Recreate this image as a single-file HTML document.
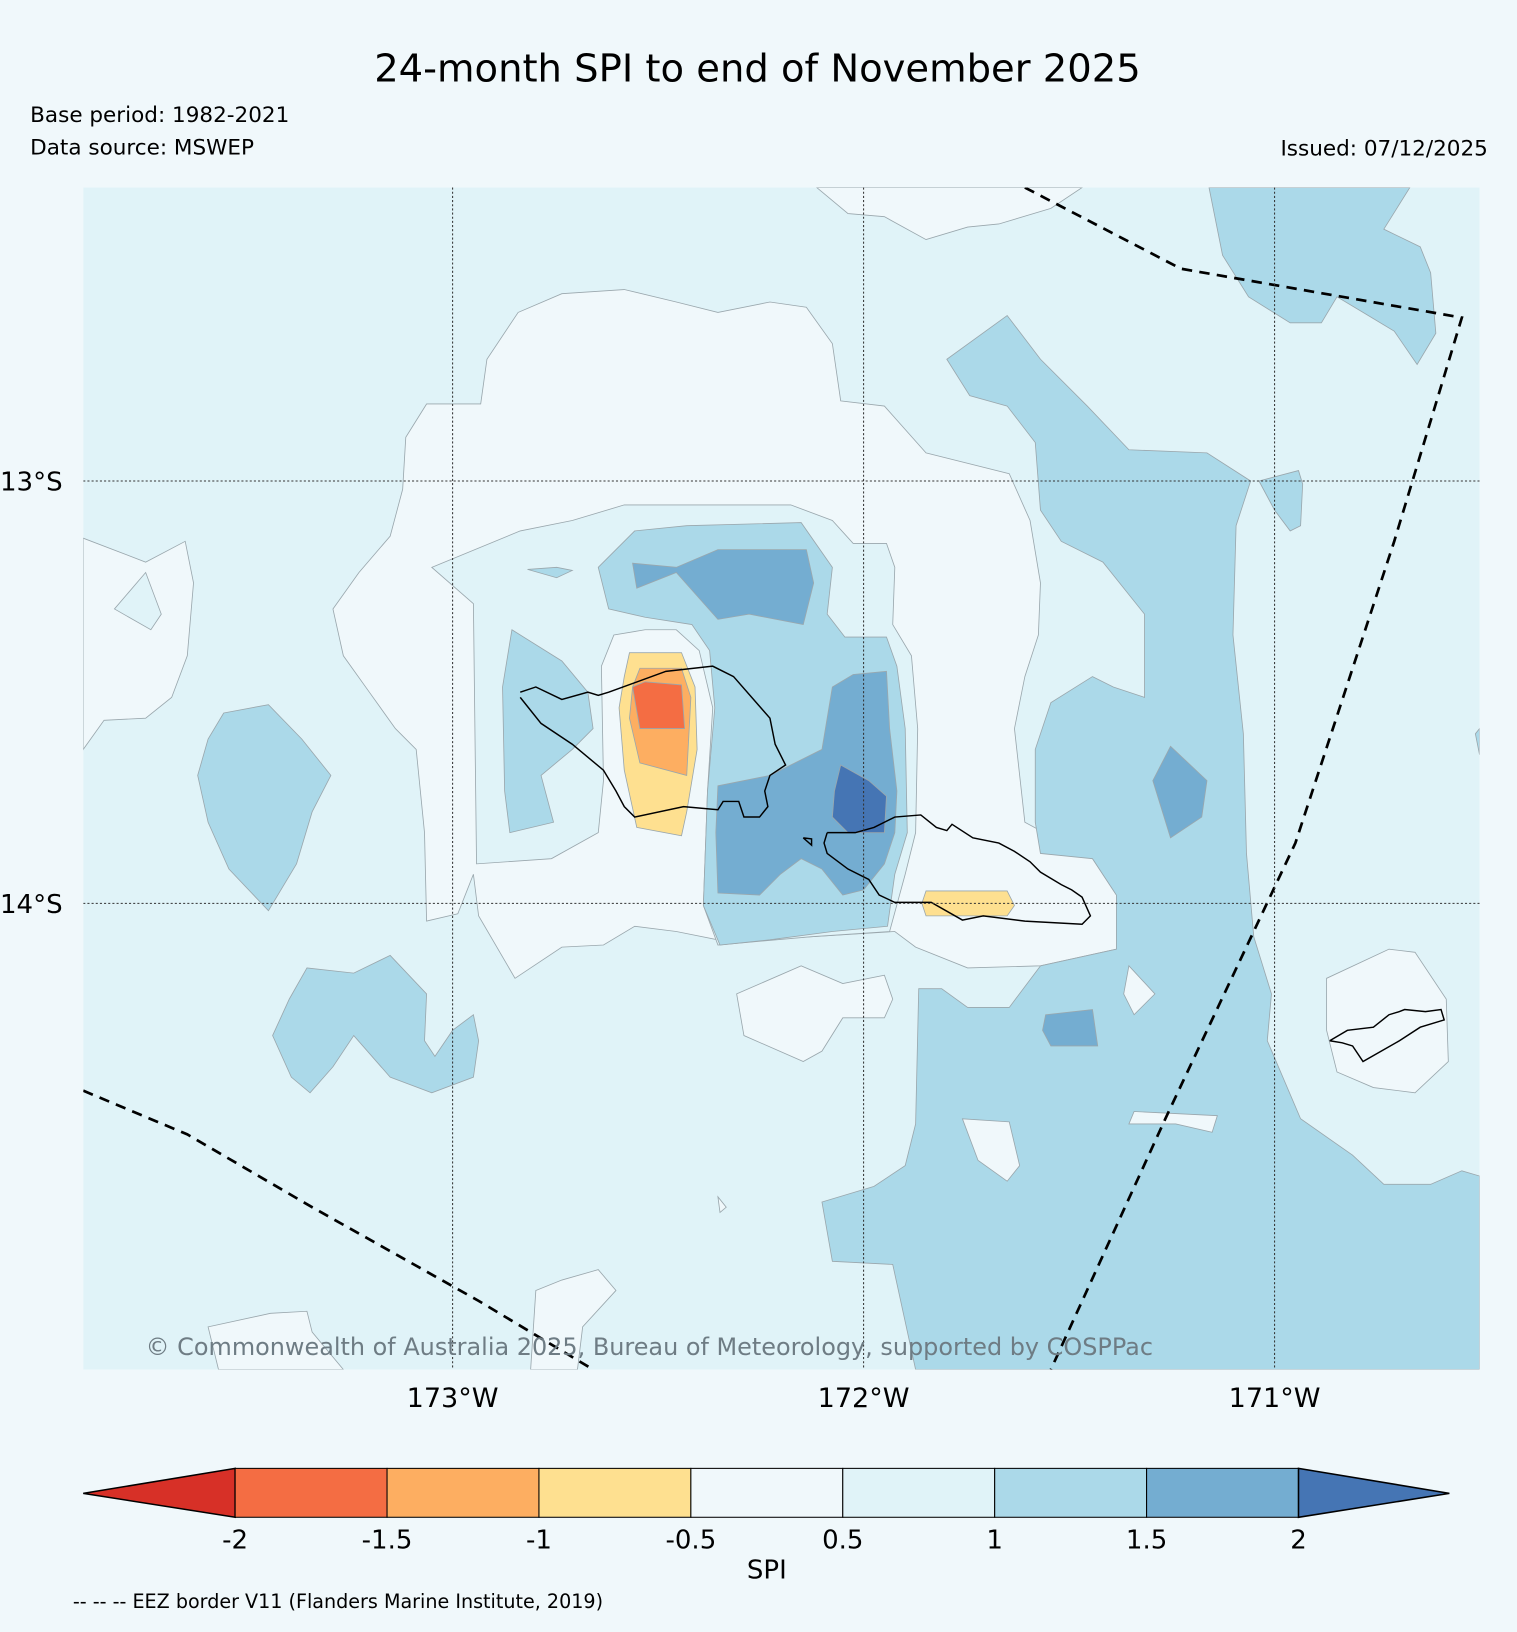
<!DOCTYPE html>
<html><head><meta charset="utf-8"><style>
html,body{margin:0;padding:0;background:#f0f8fb;}
svg{display:block;font-family:"Liberation Sans","DejaVu Sans",sans-serif;}
</style></head><body>
<svg id="root" width="1517" height="1632" viewBox="0 0 1458 1568" xmlns="http://www.w3.org/2000/svg">
<rect x="0" y="0" width="1458" height="1568" fill="#f0f8fb"/>
<text x="728" y="78" text-anchor="middle" font-size="37" fill="#000" font-family="DejaVu Sans, sans-serif">24-month SPI to end of November 2025</text>
<text x="29" y="117" font-size="20.7" font-family="DejaVu Sans, sans-serif">Base period: 1982-2021</text>
<text x="29" y="148" font-size="20.7" font-family="DejaVu Sans, sans-serif">Data source: MSWEP</text>
<text x="1430" y="149" text-anchor="end" font-size="20.7" font-family="DejaVu Sans, sans-serif">Issued: 07/12/2025</text>
<defs><clipPath id="mapclip"><rect x="80" y="180" width="1342" height="1136"/></clipPath></defs>
<g id="map" clip-path="url(#mapclip)"></g>
<g id="axes"></g>
<g id="cbar"></g>
<text x="70" y="1545" font-size="18.4" font-family="DejaVu Sans, sans-serif">-- -- -- EEZ border V11 (Flanders Marine Institute, 2019)</text>
</svg>
<script>
// ---- data ----
const levels = [-2, -1.5, -1, -0.5, 0.5, 1, 1.5, 2];
const levelLabels = ["-2", "-1.5", "-1", "-0.5", "0.5", "1", "1.5", "2"];
const binColors = ["#d73027", "#f46d43", "#fdae61", "#fee090", "#f0f8fb", "#e0f3f8", "#abd9e9", "#74add1", "#4575b4"];
const lonTicks = [-173, -172, -171];
const lonLabels = ["173°W", "172°W", "171°W"];
const latTicks = [-13, -14];
const latLabels = ["13°S", "14°S"];
// contour regions: [binIndex, outline in map grid units]
const contours = [
 [4,[[462,388],[468,345],[498,300],[540,282],[600,278],[650,290],[690,300],[740,290],[775,295],[800,330],[808,385],[850,390],[890,435],[970,455],[990,500],[1000,560],[998,610],[985,650],[975,700],[985,790],[1050,825],[1073,860],[1073,912],[1000,928],[930,930],[880,910],[860,895],[780,900],[700,905],[650,895],[610,890],[580,908],[540,910],[495,940],[460,880],[455,840],[440,878],[410,885],[408,800],[400,720],[380,700],[355,665],[330,630],[320,585],[345,550],[375,515],[387,470],[390,420],[410,388]]],
 [4,[[80,517],[140,540],[178,520],[186,560],[180,630],[165,670],[140,690],[100,692],[80,720]]],
 [5,[[110,585],[140,550],[155,590],[145,605]]],
 [4,[[785,180],[1040,180],[1010,200],[960,215],[930,218],[890,230],[850,208],[815,205]]],
 [5,[[415,545],[500,510],[550,500],[600,485],[760,485],[800,500],[820,522],[852,522],[860,545],[858,600],[876,630],[882,700],[880,800],[870,840],[855,895],[780,900],[690,908],[676,870],[680,760],[685,680],[672,625],[650,605],[620,605],[590,610],[578,640],[580,750],[575,800],[530,825],[458,830],[455,580]]],
 [6,[[575,545],[610,510],[660,505],[770,502],[800,545],[795,590],[812,612],[852,612],[862,640],[870,700],[872,800],[860,840],[853,890],[800,895],[740,903],[692,908],[676,870],[680,760],[687,680],[682,625],[665,600],[620,593],[585,585]]],
 [6,[[492,605],[540,635],[565,665],[570,700],[550,720],[520,745],[532,790],[490,800],[485,760],[483,660]]],
 [6,[[507,547],[535,545],[550,548],[535,555]]],
 [7,[[608,541],[650,545],[690,528],[775,528],[782,560],[772,600],[720,590],[690,595],[650,550],[612,565]]],
 [7,[[690,755],[740,745],[790,720],[800,660],[820,648],[852,645],[855,700],[862,760],[860,800],[850,830],[830,855],[810,860],[790,835],[770,825],[750,840],[730,860],[690,858],[688,800]]],
 [8,[[808,735],[835,750],[852,765],[850,800],[815,800],[800,785],[802,760]]],
 [3,[[605,627],[655,627],[668,660],[670,720],[660,780],[655,803],[612,795],[600,740],[595,680],[600,650]]],
 [2,[[615,642],[655,642],[664,670],[660,745],[615,733],[605,690],[608,660]]],
 [1,[[608,660],[620,655],[655,658],[658,700],[615,700]]],
 [3,[[890,856],[968,856],[975,870],[968,880],[890,880],[886,868]]],
 [6,[[910,345],[932,380],[968,390],[995,425],[1000,490],[1020,520],[1060,540],[1100,590],[1100,670],[1070,660],[1050,650],[1010,675],[995,720],[995,790],[1000,820],[1050,825],[1073,860],[1073,912],[1000,928],[970,968],[930,968],[905,950],[883,950],[880,1080],[870,1120],[840,1140],[790,1155],[800,1212],[858,1215],[880,1316],[1422,1316],[1422,1130],[1405,1125],[1375,1138],[1330,1138],[1300,1110],[1250,1075],[1218,1000],[1222,955],[1205,900],[1198,820],[1195,705],[1185,610],[1188,505],[1202,462],[1160,435],[1085,432],[1045,390],[1000,345],[968,303]]],
 [4,[[1275,940],[1335,912],[1360,915],[1390,960],[1392,1020],[1360,1050],[1320,1045],[1285,1030],[1275,990]]],
 [4,[[1090,1068],[1170,1072],[1165,1088],[1130,1080],[1085,1080]]],
 [4,[[925,1075],[970,1078],[980,1120],[968,1135],[940,1115]]],
 [4,[[1085,928],[1110,955],[1090,975],[1080,955]]],
 [7,[[1125,717],[1160,750],[1155,785],[1125,805],[1108,750]]],
 [7,[[1005,975],[1050,970],[1055,1005],[1010,1005],[1002,990]]],
 [6,[[1162,180],[1355,180],[1330,220],[1365,237],[1375,262],[1380,320],[1362,350],[1340,318],[1310,300],[1285,285],[1270,310],[1240,310],[1200,285],[1175,245]]],
 [6,[[1210,462],[1248,452],[1252,465],[1250,505],[1240,510],[1225,490]]],
 [6,[[1418,705],[1422,700],[1422,725]]],
 [6,[[215,685],[258,677],[290,710],[318,745],[300,780],[285,830],[258,875],[220,835],[200,790],[190,745],[200,710]]],
 [6,[[295,930],[340,935],[375,918],[410,955],[408,1000],[418,1015],[435,990],[455,975],[460,1000],[455,1035],[415,1050],[375,1035],[340,995],[320,1025],[298,1050],[280,1035],[262,995],[278,960]]],
 [4,[[708,955],[770,928],[810,945],[850,937],[858,960],[850,978],[810,978],[790,1010],[772,1020],[715,995]]],
 [4,[[515,1240],[540,1230],[575,1220],[592,1240],[560,1275],[555,1316],[510,1316]]],
 [4,[[200,1275],[260,1262],[295,1260],[300,1280],[330,1316],[210,1316]]],
 [4,[[690,1150],[698,1160],[692,1165]]]
];
const coastlines = [
 [[500,665],[515,660],[540,672],[565,665],[575,668],[585,665],[640,645],[685,640],[705,650],[740,690],[745,715],[755,735],[740,745],[735,760],[738,775],[730,785],[715,785],[710,770],[695,770],[690,778],[657,775],[610,785],[600,775],[592,760],[580,740],[550,715],[520,695],[500,670]],
 [[795,800],[805,800],[822,800],[840,795],[860,785],[885,783],[900,795],[910,798],[915,792],[935,805],[960,810],[975,818],[990,828],[1000,838],[1020,850],[1030,855],[1040,862],[1048,880],[1040,888],[985,885],[945,880],[925,884],[895,867],[860,867],[845,860],[835,845],[815,835],[795,820],[792,810],[795,800]],
 [[772,805],[780,806],[780,812],[772,805]],
 [[1278,1000],[1295,990],[1320,987],[1335,975],[1345,972],[1350,970],[1370,972],[1385,970],[1388,980],[1365,987],[1345,1000],[1310,1020],[1300,1005],[1290,1002],[1278,1000]]
];
const eezLines = [
 [[985,180],[1135,258],[1405,305],[1340,520],[1245,810],[1120,1075],[1010,1316]],
 [[80,1048],[180,1090],[300,1160],[460,1250],[570,1316]]
];
// ---- projection ----
const NS="http://www.w3.org/2000/svg";
const mapL=80,mapT=180,mapR=1422,mapB=1316;
function xLon(lon){return 435+(lon+173)*395;}
function yLat(lat){return 462+(-13-lat)*406;}
function gp(p){return p[0]+","+p[1];}
function mk(tag,attrs,parent){const e=document.createElementNS(NS,tag);for(const k in attrs)e.setAttribute(k,attrs[k]);parent.appendChild(e);return e;}
const map=document.getElementById('map');
const base=mk('rect',{x:mapL,y:mapT,width:mapR-mapL,height:mapB-mapT,fill:binColors[5]},map);


contours.forEach((c,i)=>{
 const p=mk('polygon',{points:c[1].map(gp).join(' '),fill:binColors[c[0]],stroke:'#9aa7ad','stroke-width':0.8},map);
 
 
});
coastlines.forEach(c=>{
 const p=mk('polyline',{points:c.map(gp).join(' '),fill:'none',stroke:'#000','stroke-width':1.4},map);
 
 
});
eezLines.forEach(c=>{
 const p=mk('polyline',{points:c.map(gp).join(' '),fill:'none',stroke:'#000','stroke-width':2.6,'stroke-dasharray':'10,7'},map);
 
 
});
const axes=document.getElementById('axes');
lonTicks.forEach((lon,i)=>{
 const x=xLon(lon);
 const l=mk('line',{x1:x,y1:mapT,x2:x,y2:mapB,stroke:'#333','stroke-width':1,'stroke-dasharray':'2,2'},map);
 
 
 const t=mk('text',{x:x,y:1352,'text-anchor':'middle','font-size':26,'font-family':'DejaVu Sans, sans-serif'},axes);
 t.textContent=lonLabels[i];
 
 
});
latTicks.forEach((lat,i)=>{
 const y=yLat(lat);
 const l=mk('line',{x1:mapL,y1:y,x2:mapR,y2:y,stroke:'#333','stroke-width':1,'stroke-dasharray':'2,2'},map);
 
 
 const t=mk('text',{x:0,y:y+9,'font-size':25,'font-family':'DejaVu Sans, sans-serif'},axes);
 t.textContent=latLabels[i];
 
 
});
const cr=mk('text',{x:140,y:1302,'font-size':23,fill:'#6e7c84','font-family':'DejaVu Sans, sans-serif'},axes);
cr.textContent='© Commonwealth of Australia 2025, Bureau of Meteorology, supported by COSPPac';


// ---- colorbar ----
const cb=document.getElementById('cbar');
const cbL=226,cbW=146,cbT=1411,cbB=1458,cbMid=1435;
function xLev(i){return cbL+i*cbW;}
const lt=mk('polygon',{points:`80,${cbMid} ${xLev(0)},${cbT} ${xLev(0)},${cbB}`,fill:binColors[0],stroke:'#000','stroke-width':1.5},cb);


for(let i=0;i<levels.length-1;i++){
 const r=mk('rect',{x:xLev(i),y:cbT,width:cbW,height:cbB-cbT,fill:binColors[i+1],stroke:'#000','stroke-width':1},cb);
 
 
}
const rt=mk('polygon',{points:`${xLev(levels.length-1)},${cbT} 1393,${cbMid} ${xLev(levels.length-1)},${cbB}`,fill:binColors[8],stroke:'#000','stroke-width':1.5},cb);


levels.forEach((v,i)=>{
 const t=mk('text',{x:xLev(i),y:1488,'text-anchor':'middle','font-size':25,'font-family':'DejaVu Sans, sans-serif'},cb);
 t.textContent=levelLabels[i];
 
 
});
const st=mk('text',{x:737,y:1517,'text-anchor':'middle','font-size':25,'font-family':'DejaVu Sans, sans-serif'},cb);
st.textContent='SPI';


</script>
</body></html>
